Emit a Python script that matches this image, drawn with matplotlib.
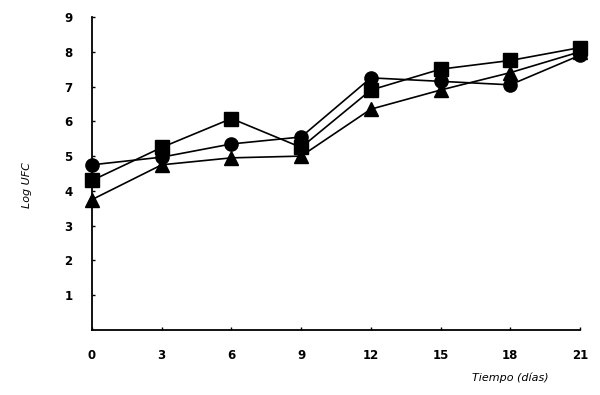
import matplotlib
matplotlib.use("Agg")
import matplotlib.pyplot as plt

days = [0, 3, 6, 9, 12, 15, 18, 21]
circle_vals = [4.75, 4.97, 5.35, 5.55, 7.25, 7.15, 7.05, 7.9]
square_vals = [4.3, 5.25, 6.08, 5.25, 6.9, 7.5, 7.75, 8.12]
triangle_vals = [3.75, 4.75, 4.95, 5.0, 6.35, 6.9, 7.4, 8.0]
xticks = [0, 3, 6, 9, 12, 15, 18, 21]
yticks = [1, 2, 3, 4, 5, 6, 7, 8, 9]

fig = plt.figure(figsize=(6.0, 3.95), dpi=100)
ax = fig.add_axes([92/600, 1 - 330/395, (580-92)/600, (330-17)/395])

kw = dict(color="black", linewidth=1.2, markersize=9.5, clip_on=False)
ax.plot(days, circle_vals, marker="o", **kw)
ax.plot(days, triangle_vals, marker="^", **kw)
ax.plot(days, square_vals, marker="s", **kw)

ax.set_xlim(0, 21)
ax.set_ylim(0, 9)
ax.set_xticks(xticks)
ax.set_yticks(yticks)
ax.set_xticklabels([str(t) for t in xticks], fontweight="bold", fontsize=8.5)
ax.set_yticklabels([str(t) for t in yticks], fontweight="bold", fontsize=8.5)
ax.tick_params(axis="both", direction="in", length=2, width=1)
ax.tick_params(axis="x", pad=14)
ax.tick_params(axis="y", pad=14)

for s in ["top", "right"]:
    ax.spines[s].set_visible(False)
for s in ["left", "bottom"]:
    ax.spines[s].set_linewidth(1.3)

fig.text(27/600, 1 - 185/395, "Log UFC", rotation=90, style="italic",
         fontsize=8, ha="center", va="center")
fig.text(510/600, 1 - 378/395, "Tiempo (días)", style="italic",
         fontsize=8, ha="center", va="center")

fig.savefig("out.png", dpi=100)
